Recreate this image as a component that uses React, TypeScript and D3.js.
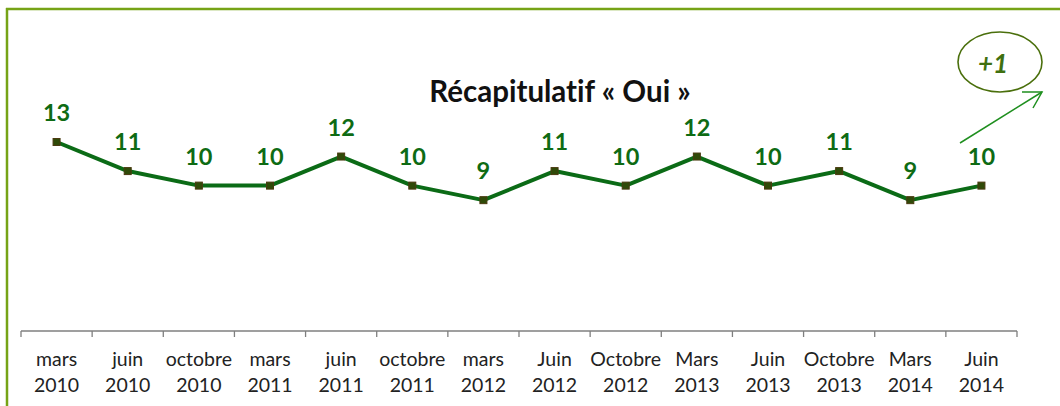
import React from 'react';
import * as d3 from 'd3';

const periods = [
  'mars 2010', 'juin 2010', 'octobre 2010', 'mars 2011', 'juin 2011', 'octobre 2011', 'mars 2012',
  'Juin 2012', 'Octobre 2012', 'Mars 2013', 'Juin 2013', 'Octobre 2013', 'Mars 2014', 'Juin 2014',
];
const ouiValues = [13, 11, 10, 10, 12, 10, 9, 11, 10, 12, 10, 11, 9, 10];
const chartTitle = 'Récapitulatif « Oui »';
const deltaLabel = '+1';

const W = 1060;
const H = 406;
const font = 'Lato, "Open Sans", sans-serif';

export default function App() {
  const x = d3.scaleBand().domain(periods).range([21, 1017]);
  const y = d3.scaleLinear().domain([0, 13]).range([331, 142]);

  const line = d3.line<number>()
    .x((_, i) => (x(periods[i]) as number) + x.bandwidth() / 2)
    .y((d) => y(d));

  const boundaries = periods.map((p) => x(p) as number).concat([x.range()[1]]);

  return (
    <svg width={W} height={H} style={{ position: 'absolute', left: 0, top: 0, background: '#fff', fontVariantLigatures: 'none' }}>
      {/* frame */}
      <line x1={6} y1={9} x2={W} y2={9} stroke="#76a316" strokeWidth={2.5} />
      <line x1={7} y1={8} x2={7} y2={H} stroke="#76a316" strokeWidth={2.5} />

      <text x={560} y={102} textAnchor="middle" fontFamily={font} fontWeight={700} fontSize={29.5} fill="#111">
        {chartTitle}
      </text>

      {/* axis */}
      <line x1={x.range()[0]} y1={331} x2={x.range()[1]} y2={331} stroke="#7f7f7f" strokeWidth={1.3} />
      {boundaries.map((b, i) => (
        <line key={i} x1={b} y1={331} x2={b} y2={337} stroke="#7f7f7f" strokeWidth={1.3} />
      ))}
      {periods.map((p) => {
        const [m, yr] = p.split(' ');
        const cx = (x(p) as number) + x.bandwidth() / 2;
        return (
          <text key={p} x={cx} textAnchor="middle" fontFamily={font} fontSize={19.5} fill="#222">
            <tspan x={cx} y={366}>{m}</tspan>
            <tspan x={cx} y={392}>{yr}</tspan>
          </text>
        );
      })}

      <path d={line(ouiValues) || ''} fill="none" stroke="#0b6b16" strokeWidth={4} strokeLinejoin="round" />
      {ouiValues.map((v, i) => {
        const cx = (x(periods[i]) as number) + x.bandwidth() / 2;
        return (
          <g key={i}>
            <rect x={cx - 3.5} y={y(v) - 3.5} width={7} height={7} fill="#2f4a08" stroke="#4a3a10" strokeWidth={1} />
            <text x={cx} y={y(v) - 21} textAnchor="middle" fontFamily={font} fontWeight={700} fontSize={23.5} fill="#0e6b14">
              {v}
            </text>
          </g>
        );
      })}

      {/* annotation */}
      <ellipse cx={1000} cy={62} rx={42} ry={30} fill="none" stroke="#4a6f0c" strokeWidth={1.6} />
      <text x={993} y={73} textAnchor="middle" fontFamily={font} fontWeight={700} fontStyle="italic" fontSize={26} fill="#3f7010">
        {deltaLabel}
      </text>
      <line x1={960} y1={143} x2={1042} y2={92} stroke="#1f8f1f" strokeWidth={1.5} />
      <polyline points="1022,92 1042,92 1033,108" fill="none" stroke="#1f8f1f" strokeWidth={1.5} />
    </svg>
  );
}
